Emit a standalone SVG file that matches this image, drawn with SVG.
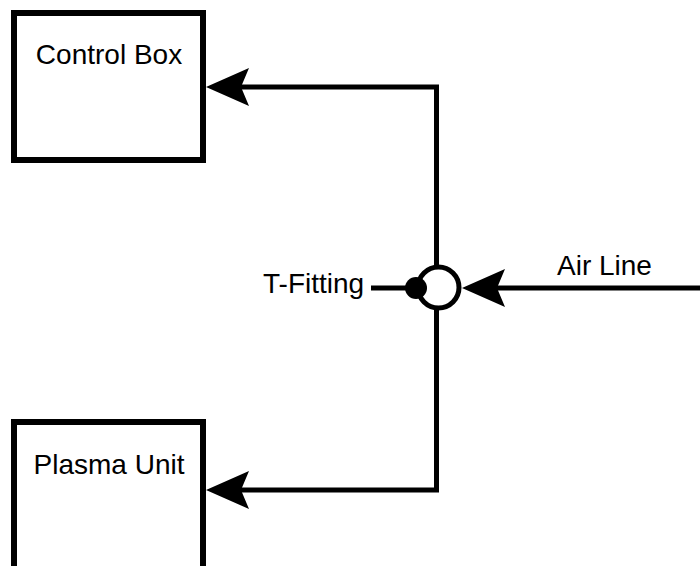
<svg xmlns="http://www.w3.org/2000/svg" width="700" height="566" viewBox="0 0 700 566">
<style>
.box{fill:#fff;stroke:#000;stroke-width:6}
.lbl{font-family:"Liberation Sans",Arial,sans-serif;font-size:28px;fill:#000}
.wire{fill:none;stroke:#000;stroke-width:5;stroke-linejoin:miter}
</style>
<defs>
<marker id="arr" viewBox="-10 -22 50 44" markerWidth="50" markerHeight="44" refX="0" refY="0" markerUnits="userSpaceOnUse" orient="auto">
<path d="M35,0 L-8,-19 L0,0 L-8,19 Z" fill="#000"/>
</marker>
</defs>
<rect width="700" height="566" fill="#fff"/>
<g id="control-box">
<rect class="box" x="14" y="13" width="189" height="147"/>
<text class="lbl" x="109" y="64" text-anchor="middle">Control Box</text>
</g>
<g id="plasma-unit">
<rect class="box" x="14" y="422" width="189" height="160"/>
<text class="lbl" x="109" y="474" text-anchor="middle">Plasma Unit</text>
</g>
<g id="connectors">
<path class="wire" d="M436.5 268 V87 H241" marker-end="url(#arr)"/>
<path class="wire" d="M436.5 308 V490 H241" marker-end="url(#arr)"/>
<path class="wire" d="M700 288 H497" marker-end="url(#arr)"/>
<path class="wire" d="M371 288 H414"/>
</g>
<g id="t-fitting">
<circle cx="438.5" cy="287.5" r="20.5" fill="#fff" stroke="#000" stroke-width="5"/>
<circle cx="416" cy="288" r="11" fill="#000"/>
<text class="lbl" x="263" y="293">T-Fitting</text>
</g>
<g id="air-line">
<text class="lbl" x="557" y="275">Air Line</text>
</g>
</svg>
